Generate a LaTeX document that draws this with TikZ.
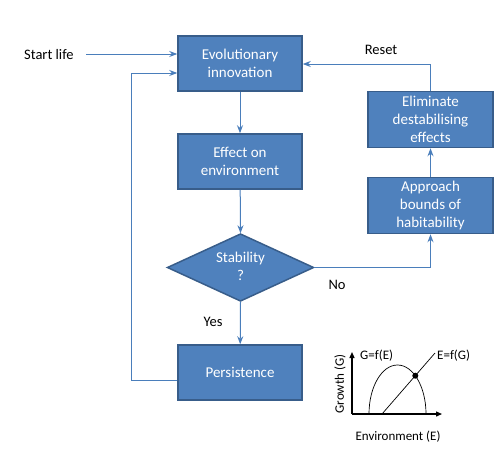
\documentclass[tikz,border=0pt]{standalone}
\usepackage{fontspec}
\setmainfont{Carlito}
\usetikzlibrary{arrows.meta,shapes.geometric}
\definecolor{boxfill}{HTML}{4F81BD}
\definecolor{boxline}{HTML}{385D8A}
\definecolor{conn}{HTML}{4A7EBB}
\tikzset{
  flowbox/.style={draw=boxline, line width=1.5pt, fill=boxfill, text=white,
    minimum width=124pt, minimum height=55pt, align=center, inner sep=2pt,
    font=\fontsize{15}{18}\selectfont},
  decision/.style={diamond, draw=boxline, line width=1.5pt, fill=boxfill, text=white,
    minimum width=146pt, minimum height=67pt, aspect=2.2, align=center, inner sep=0pt,
    font=\fontsize{15}{18}\selectfont},
  lbl/.style={font=\fontsize{14.5}{17}\selectfont, text=black, inner sep=0pt},
  small/.style={font=\fontsize{13}{15}\selectfont, text=black, inner sep=0pt},
  flow/.style={draw=conn, line width=1pt, -{Stealth[length=8pt,width=6pt]}},
  axis/.style={draw=black, line width=1.3pt, -{Triangle[length=6pt,width=5pt]}},
  curve/.style={draw=black, line width=0.7pt}
}
\begin{document}
\begin{tikzpicture}[x=1pt,y=-1pt]
\useasboundingbox (0,0) rectangle (502,450);
% boxes
\node[flowbox] (evo) at (240,63.5) {Evolutionary\\innovation};
\node[flowbox] (eff) at (240,161.5) {Effect on\\environment};
\node[decision, draw=none, fill=none] (stab) at (240.5,267.5) {};
\path[draw=boxline, line width=1.5pt, fill=boxfill] (167.5,267.5) -- (240.5,234) -- (313.5,267.5) -- (240.5,301) -- cycle;
\node[text=white, align=center, font=\fontsize{15}{18}\selectfont] (stabtxt) at (240.5,266) {Stability\\?};
\node[flowbox] (pers) at (240,372.5) {Persistence};
\node[flowbox, minimum width=125pt, minimum height=56pt] (elim) at (430.5,119.5) {Eliminate\\destabilising\\effects};
\node[flowbox, minimum width=125pt, minimum height=56pt] (appr) at (430.5,205.5) {Approach\\bounds of\\habitability};
% labels
\node[lbl, anchor=west] (start) at (24,55) {Start life};
\node[lbl] (reset) at (381,50) {Reset};
\node[lbl] (no) at (337,285) {No};
\node[lbl] (yes) at (213,322) {Yes};
% connectors
\coordinate (startend) at (86,54);
\draw[flow] (startend) -- (evo.west |- startend);
\draw[flow] (evo) -- (eff);
\draw[flow] (eff) -- (stab.north);
\draw[flow] (stab.south) -- (pers);
\draw[flow] (stab.east) -| (appr.south);
\draw[flow] (appr) -- (elim);
\coordinate (resetcorner) at (430.5,64);
\draw[flow] (elim.north) -- (resetcorner) -- (evo.east |- resetcorner);
\coordinate (loopa) at (131,380);
\coordinate (loopb) at (131,73);
\draw[flow] (pers.west |- loopa) -- (loopa) -- (loopb) -- (evo.west |- loopb);
% inset graph
\coordinate (orig) at (352,414);
\coordinate (ytop) at (352,352);
\coordinate (xend) at (442,414);
\draw[axis] (orig) -- (ytop);
\draw[axis] (orig) -- (xend);
\draw[curve] (369,414) arc[start angle=180, end angle=0, x radius=28.5pt, y radius=49pt];
\coordinate (la) at (382,414);
\coordinate (lb) at (435,353);
\draw[curve] (la) -- (lb);
\fill[black] (415.3,375.7) circle (3pt);
\node[small, anchor=west] (gfe) at (360,356) {G=f(E)};
\node[small, anchor=west] (efg) at (437,356) {E=f(G)};
\node[small, rotate=90] (gr) at (340,384) {Growth (G)};
\node[small] (env) at (398,437) {Environment (E)};
\end{tikzpicture}
\end{document}
